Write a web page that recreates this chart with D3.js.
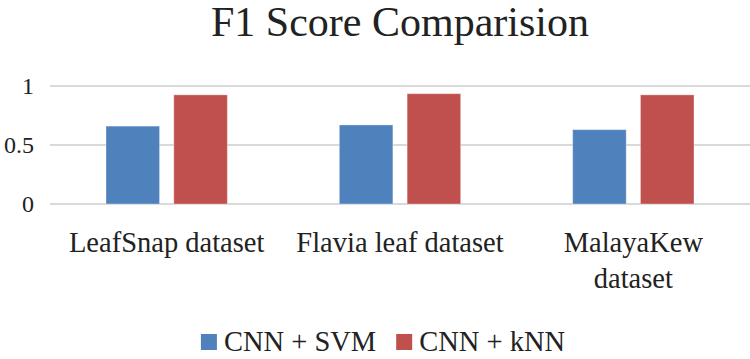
<!DOCTYPE html>
<html>
<head>
<meta charset="utf-8">
<script src="https://cdn.jsdelivr.net/npm/d3@7"></script>
<style>
  body { margin: 0; background: #fff; }
  text { font-family: "Liberation Serif", "Times New Roman", serif; fill: #222; }
</style>
</head>
<body>
<div id="chart"></div>
<script>
const categories = ["LeafSnap dataset", "Flavia leaf dataset", "MalayaKew\ndataset"];
const seriesNames = ["CNN + SVM", "CNN + kNN"];
const svmScores = [0.66, 0.67, 0.63];
const knnScores = [0.925, 0.935, 0.925];
const yTicks = [0, 0.5, 1];
const colors = ["#4f81bd", "#c0504d"];

const width = 750, height = 359;
const plot = {left: 50, right: 750, top: 86, bottom: 204};

const rows = categories.map((c, i) => ({cat: c, vals: [svmScores[i], knnScores[i]]}));

const svg = d3.select("#chart")
    .append("svg")
    .attr("width", width)
    .attr("height", height);

const x = d3.scaleBand()
    .domain(categories)
    .range([plot.left, plot.right])
    .paddingInner(0)
    .paddingOuter(0);

const xInner = d3.scaleBand()
    .domain(seriesNames)
    .range([56, x.bandwidth() - 56])
    .paddingInner(0.21);

const y = d3.scaleLinear()
    .domain([0, 1])
    .range([plot.bottom, plot.top]);

// title
svg.append("text")
    .attr("x", (plot.left + plot.right) / 2)
    .attr("y", 36)
    .attr("text-anchor", "middle")
    .style("font-size", "42px")
    .text("F1 Score Comparision");

// gridlines
svg.append("g")
    .selectAll("line")
    .data(yTicks)
    .join("line")
    .attr("x1", plot.left)
    .attr("x2", plot.right)
    .attr("y1", d => y(d))
    .attr("y2", d => y(d))
    .attr("stroke", "#d9d9d9")
    .attr("stroke-width", 2);

// y tick labels
svg.append("g")
    .selectAll("text")
    .data(yTicks)
    .join("text")
    .attr("x", 34)
    .attr("y", d => y(d))
    .attr("dy", "0.35em")
    .attr("text-anchor", "end")
    .style("font-size", "24px")
    .text(d => d);

// bars
const groups = svg.append("g")
    .selectAll("g")
    .data(rows)
    .join("g")
    .attr("transform", d => `translate(${x(d.cat)},0)`);

groups.selectAll("rect")
    .data(d => d.vals.map((v, i) => ({name: seriesNames[i], v: v, i: i})))
    .join("rect")
    .attr("x", d => xInner(d.name))
    .attr("width", xInner.bandwidth())
    .attr("y", d => y(d.v))
    .attr("height", d => y(0) - y(d.v))
    .attr("fill", d => colors[d.i])
    .attr("stroke", "rgba(255,255,255,0.35)")
    .attr("stroke-width", 1);

// category labels
const catLabels = svg.append("g")
    .selectAll("text")
    .data(categories)
    .join("text")
    .attr("x", d => x(d) + x.bandwidth() / 2)
    .attr("y", 252)
    .attr("text-anchor", "middle")
    .style("font-size", "28.5px");

catLabels.selectAll("tspan")
    .data(d => d.split("\n"))
    .join("tspan")
    .attr("x", function() { return d3.select(this.parentNode).attr("x"); })
    .attr("dy", (d, i) => i === 0 ? 0 : 36)
    .text(d => d);

// legend
const legend = svg.append("g");
const legendItems = legend.selectAll("g")
    .data(seriesNames)
    .join("g");

legendItems.append("rect")
    .attr("width", 16)
    .attr("height", 16)
    .attr("y", 334)
    .attr("fill", (d, i) => colors[i]);

legendItems.append("text")
    .attr("x", 23)
    .attr("y", 351)
    .style("font-size", "28.5px")
    .text(d => d);

let offset = 0;
const starts = [];
legendItems.each(function() {
    starts.push(offset);
    offset += this.getBBox().width + 20;
});
const totalW = offset - 20;
const legendX = 383 - totalW / 2;
legendItems.attr("transform", (d, i) => `translate(${legendX + starts[i]},0)`);
</script>
</body>
</html>
